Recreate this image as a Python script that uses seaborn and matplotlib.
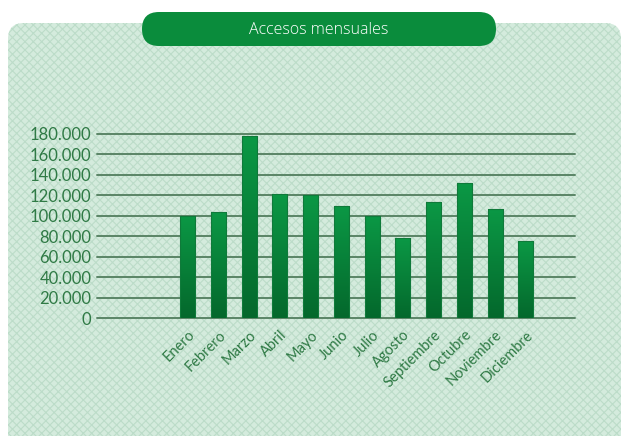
import numpy as np
import pandas as pd
import matplotlib
matplotlib.use("Agg")
import matplotlib.pyplot as plt
import seaborn as sns
from matplotlib.patches import FancyBboxPatch
from matplotlib.colors import LinearSegmentedColormap
from matplotlib.ticker import FuncFormatter, MultipleLocator

# datos
meses = ["Enero", "Febrero", "Marzo", "Abril", "Mayo", "Junio", "Julio",
         "Agosto", "Septiembre", "Octubre", "Noviembre", "Diciembre"]
accesos = [100000, 104000, 178000, 121000, 120000, 110000, 100000,
           78000, 113000, 132000, 107000, 75000]
titulo = "Accesos mensuales"

sns.set_style("white")
plt.rcParams['font.family'] = ['Lato', 'DejaVu Sans']
plt.rcParams['hatch.linewidth'] = 0.8

verde_texto = "#2f7a45"
verde_titulo = "#0a8c3c"

df = pd.DataFrame({"mes": meses, "accesos": accesos})

fig = plt.figure(figsize=(6.23, 4.36), dpi=100)

# fondo: panel redondeado con trama
bg = fig.add_axes([0, 0, 1, 1], zorder=-1)
bg.set_xlim(0, 623)
bg.set_ylim(436, 0)
bg.axis("off")
panel = FancyBboxPatch((8, 23), 613, 440, boxstyle="round,pad=0,rounding_size=16",
                       facecolor="#d4ebdd", edgecolor="none")
bg.add_patch(panel)
trama = FancyBboxPatch((8, 23), 613, 440, boxstyle="round,pad=0,rounding_size=16",
                       facecolor="none", edgecolor="#bcdcc9", hatch="xxxx", lw=0)
bg.add_patch(trama)
pill = FancyBboxPatch((142, 12), 354, 34, boxstyle="round,pad=0,rounding_size=17",
                      facecolor=verde_titulo, edgecolor="none")
bg.add_patch(pill)
bg.text(319, 29.5, titulo, color="white", fontsize=11.5, ha="center", va="center",
        family=['Open Sans', 'DejaVu Sans'], fontweight="light")

# gráfico de barras
ax = fig.add_axes([97 / 623, (436 - 318) / 436, 478 / 623, 184 / 436])
ax.set_facecolor("none")
sns.barplot(data=df, x="mes", y="accesos", color="#0a8a3c", width=0.49,
            ax=ax, zorder=3)

ax.set_xlim(-2.95, 12.6)
ax.set_ylim(0, 180000)
ax.yaxis.set_major_locator(MultipleLocator(20000))
ax.yaxis.set_major_formatter(FuncFormatter(lambda v, p: f"{v:,.0f}".replace(",", ".")))
ax.yaxis.grid(True, color="#5a8566", lw=1.4)
ax.set_axisbelow(True)
for gl in ax.get_ygridlines():
    gl.set_clip_on(False)
sns.despine(ax=ax, left=True, bottom=True, top=True, right=True)
ax.set_xlabel("")
ax.set_ylabel("")
ax.tick_params(axis="both", length=0, colors=verde_texto)
ax.tick_params(axis="y", labelsize=12, pad=4)
ax.tick_params(axis="x", labelsize=10.5, pad=7)
plt.setp(ax.get_xticklabels(), rotation=45, ha="right", rotation_mode="anchor")

# degradado en las barras
cmap = LinearSegmentedColormap.from_list("g", ["#04682c", "#0b9845"])
grad = np.linspace(0, 1, 256).reshape(-1, 1)
for bar in ax.patches:
    x0, y0 = bar.get_x(), bar.get_y()
    w, h = bar.get_width(), bar.get_height()
    bar.set_facecolor("none")
    bar.set_edgecolor("#0f7a3a")
    bar.set_linewidth(0.8)
    im = ax.imshow(grad, extent=[x0, x0 + w, y0, y0 + h], origin="lower",
                   cmap=cmap, aspect="auto", zorder=2.5)
    im.set_clip_path(bar)

ax.set_xlim(-2.95, 12.6)
ax.set_ylim(0, 180000)

fig.savefig("out.png", dpi=100)
